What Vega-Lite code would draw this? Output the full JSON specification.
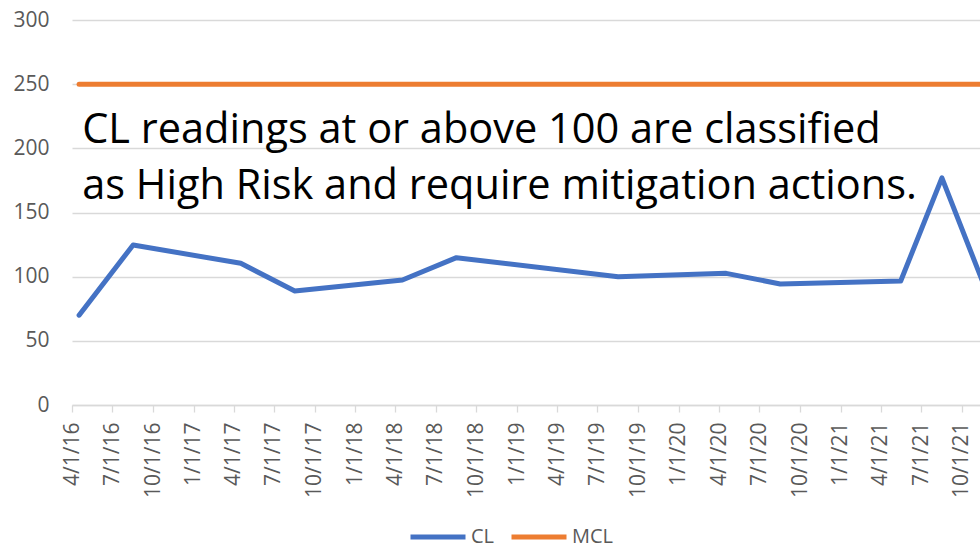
{
  "$schema": "https://vega.github.io/schema/vega-lite/v6.json",
  "width": 908,
  "height": 385,
  "autosize": {"type": "none"},
  "padding": {"left": 72, "top": 20, "right": 0, "bottom": 143},
  "background": "white",
  "config": {
    "view": {"stroke": null},
    "font": "Open Sans"
  },
  "layer": [
    {
      "data": {
        "values": [
          {"date": "2016/04/17", "value": 70, "series": "CL"},
          {"date": "2016/08/17", "value": 124.7, "series": "CL"},
          {"date": "2017/04/17", "value": 110.4, "series": "CL"},
          {"date": "2017/08/17", "value": 88.8, "series": "CL"},
          {"date": "2018/04/17", "value": 97.4, "series": "CL"},
          {"date": "2018/08/17", "value": 114.8, "series": "CL"},
          {"date": "2019/08/17", "value": 100, "series": "CL"},
          {"date": "2020/04/17", "value": 102.6, "series": "CL"},
          {"date": "2020/08/17", "value": 94.3, "series": "CL"},
          {"date": "2021/05/16", "value": 96.6, "series": "CL"},
          {"date": "2021/08/17", "value": 177, "series": "CL"},
          {"date": "2021/11/17", "value": 96, "series": "CL"},
          {"date": "2016/04/17", "value": 250, "series": "MCL"},
          {"date": "2016/08/17", "value": 250, "series": "MCL"},
          {"date": "2017/04/17", "value": 250, "series": "MCL"},
          {"date": "2017/08/17", "value": 250, "series": "MCL"},
          {"date": "2018/04/17", "value": 250, "series": "MCL"},
          {"date": "2018/08/17", "value": 250, "series": "MCL"},
          {"date": "2019/08/17", "value": 250, "series": "MCL"},
          {"date": "2020/04/17", "value": 250, "series": "MCL"},
          {"date": "2020/08/17", "value": 250, "series": "MCL"},
          {"date": "2021/05/16", "value": 250, "series": "MCL"},
          {"date": "2021/08/17", "value": 250, "series": "MCL"},
          {"date": "2021/11/17", "value": 250, "series": "MCL"}
        ]
      },
      "mark": {"type": "line", "strokeWidth": 5, "strokeCap": "round", "strokeJoin": "round", "clip": true},
      "encoding": {
        "x": {
          "field": "date",
          "type": "temporal",
          "scale": {"domain": [{"year": 2016, "month": 4, "date": 1}, {"year": 2021, "month": 11, "date": 11}]},
          "axis": {
            "title": null,
            "values": [
              {"year": 2016, "month": 4, "date": 1}, {"year": 2016, "month": 7, "date": 1}, {"year": 2016, "month": 10, "date": 1},
              {"year": 2017, "month": 1, "date": 1}, {"year": 2017, "month": 4, "date": 1}, {"year": 2017, "month": 7, "date": 1}, {"year": 2017, "month": 10, "date": 1},
              {"year": 2018, "month": 1, "date": 1}, {"year": 2018, "month": 4, "date": 1}, {"year": 2018, "month": 7, "date": 1}, {"year": 2018, "month": 10, "date": 1},
              {"year": 2019, "month": 1, "date": 1}, {"year": 2019, "month": 4, "date": 1}, {"year": 2019, "month": 7, "date": 1}, {"year": 2019, "month": 10, "date": 1},
              {"year": 2020, "month": 1, "date": 1}, {"year": 2020, "month": 4, "date": 1}, {"year": 2020, "month": 7, "date": 1}, {"year": 2020, "month": 10, "date": 1},
              {"year": 2021, "month": 1, "date": 1}, {"year": 2021, "month": 4, "date": 1}, {"year": 2021, "month": 7, "date": 1}, {"year": 2021, "month": 10, "date": 1}
            ],
            "format": "%-m/%-d/%y",
            "labelAngle": 270,
            "labelAlign": "right",
            "labelBaseline": "middle",
            "labelDy": 7,
            "labelFont": "Open Sans",
            "labelFontSize": 21,
            "labelColor": "#595959",
            "labelPadding": 10,
            "labelOverlap": false,
            "labelFlush": false,
            "grid": false,
            "domainColor": "#D9D9D9",
            "domainWidth": 1.3,
            "tickColor": "#D9D9D9",
            "tickWidth": 1.3,
            "tickSize": 7
          }
        },
        "y": {
          "field": "value",
          "type": "quantitative",
          "scale": {"domain": [0, 300], "nice": false},
          "axis": {
            "title": null,
            "values": [0, 50, 100, 150, 200, 250, 300],
            "domain": false,
            "ticks": false,
            "tickSize": 0,
            "labelPadding": 23,
            "labelFont": "Open Sans",
            "labelFontSize": 21,
            "labelColor": "#595959",
            "gridColor": "#D9D9D9",
            "gridWidth": 1.3
          }
        },
        "color": {
          "field": "series",
          "type": "nominal",
          "scale": {"domain": ["CL", "MCL"], "range": ["#4472C4", "#ED7D31"]},
          "legend": {
            "title": null,
            "orient": "none",
            "direction": "horizontal",
            "legendX": 336,
            "legendY": 487,
            "padding": 0,
            "gridAlign": "none",
            "symbolType": "stroke",
            "symbolSize": 3025,
            "symbolStrokeWidth": 5,
            "labelFont": "Open Sans",
            "labelFontSize": 20,
            "labelColor": "#595959",
            "labelOffset": 3,
            "columnPadding": 6
          }
        }
      }
    },
    {
      "data": {
        "values": [
          {"date": "2016/04/24", "value": 203.9, "label": "CL readings at or above 100 are classified"},
          {"date": "2016/04/24", "value": 160.3, "label": "as High Risk and require mitigation actions."}
        ]
      },
      "mark": {"type": "text", "align": "left", "baseline": "alphabetic", "font": "Open Sans", "fontSize": 41.5, "color": "#000000"},
      "encoding": {
        "x": {"field": "date", "type": "temporal"},
        "y": {"field": "value", "type": "quantitative"},
        "text": {"field": "label"}
      }
    }
  ]
}
